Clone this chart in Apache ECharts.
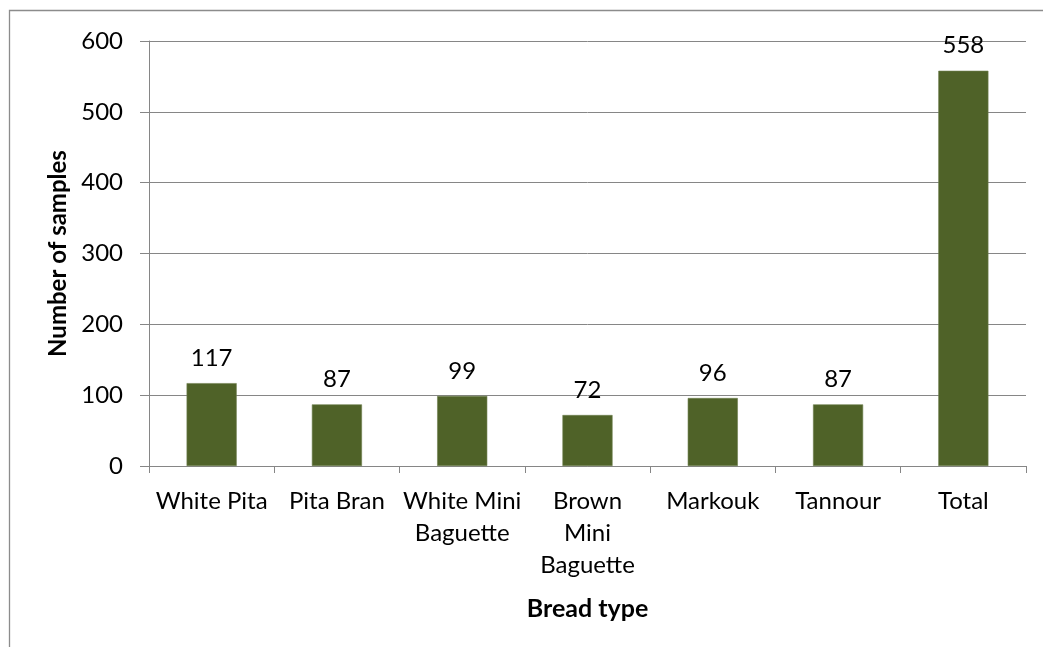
<!DOCTYPE html>
<html>
<head>
<meta charset="utf-8">
<script src="https://cdn.jsdelivr.net/npm/echarts@6/dist/echarts.min.js"></script>
<style>
  html, body { margin: 0; padding: 0; background: #fff; }
  #chart { width: 1043px; height: 647px; }
</style>
</head>
<body>
<div id="chart"></div>
<script>
// Bread samples collected, by type
const categories = ['White Pita', 'Pita Bran', 'White Mini\nBaguette', 'Brown\nMini\nBaguette', 'Markouk', 'Tannour', 'Total'];
const sampleCounts = [117, 87, 99, 72, 96, 87, 558];
const yTicks = { min: 0, max: 600, interval: 100 };

const FONT = 'Lato';
const TEXT = '#000';
const LINE = '#868686';

const chart = echarts.init(document.getElementById('chart'), null, { renderer: 'canvas' });

chart.setOption({
  animation: false,
  backgroundColor: '#fff',
  textStyle: { fontFamily: FONT },
  graphic: [{
    type: 'rect',
    shape: { x: 9.5, y: 10.5, width: 1100, height: 700 },
    style: { fill: 'none', stroke: '#8c8c8c', lineWidth: 1.3 },
    silent: true
  }],
  grid: { left: 149, right: 17, top: 41, bottom: 181, containLabel: false },
  xAxis: {
    type: 'category',
    data: categories,
    name: 'Bread type',
    nameLocation: 'middle',
    nameGap: 130,
    nameTextStyle: { fontFamily: FONT, fontSize: 25, fontWeight: 'bold', color: TEXT },
    axisLine: { lineStyle: { color: LINE, width: 1 } },
    axisTick: { show: true, length: 7, alignWithLabel: false, lineStyle: { color: LINE } },
    axisLabel: { fontFamily: FONT, fontSize: 24, color: TEXT, margin: 19, lineHeight: 32, interval: 0 }
  },
  yAxis: {
    type: 'value',
    min: yTicks.min,
    max: yTicks.max,
    interval: yTicks.interval,
    name: 'Number of samples',
    nameLocation: 'middle',
    nameGap: 75,
    nameTextStyle: { fontFamily: FONT, fontSize: 24, fontWeight: 'bold', color: TEXT },
    axisLine: { show: true, lineStyle: { color: LINE, width: 1 } },
    axisTick: { show: true, length: 9, lineStyle: { color: LINE } },
    axisLabel: { fontFamily: FONT, fontSize: 24, color: TEXT, margin: 26 },
    splitLine: { lineStyle: { color: LINE, width: 1 } }
  },
  series: [{
    type: 'bar',
    data: sampleCounts,
    barWidth: '40%',
    itemStyle: { color: '#4F6228', borderColor: '#6f7f4f', borderWidth: 0.6 },
    label: {
      show: true,
      position: 'top',
      distance: 13,
      fontFamily: FONT,
      fontSize: 24,
      color: TEXT
    }
  }]
});
</script>
</body>
</html>
